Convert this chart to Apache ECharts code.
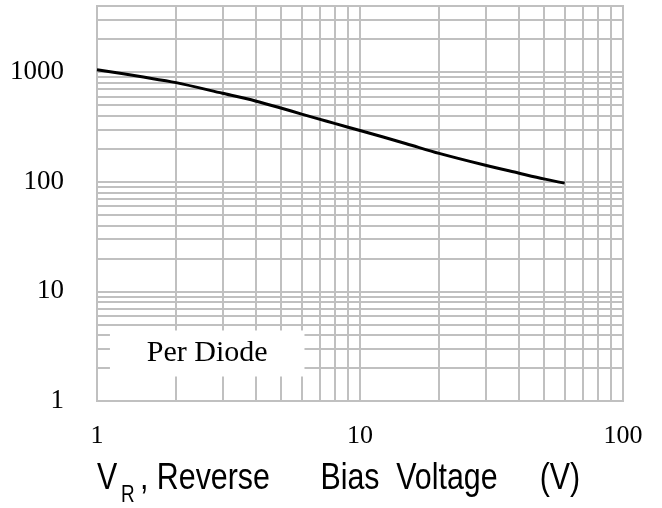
<!DOCTYPE html>
<html>
<head>
<meta charset="utf-8">
<script src="https://cdn.jsdelivr.net/npm/echarts@6/dist/echarts.min.js"></script>
<style>
  html, body { margin: 0; padding: 0; background: #fff; }
  #chart { width: 662px; height: 508px; }
</style>
</head>
<body>
<div id="chart"></div>
<script>
// Data (Capacitance vs reverse bias voltage, log-log)
const reverseVoltage = [1, 1.5, 2, 3, 4, 5, 6, 7, 8, 10, 15, 20, 30, 40, 50, 60];
const capacitance    = [1050, 900, 800, 640, 545, 470, 413, 372, 340, 293, 222, 181, 141, 120, 106, 97];

const xTickLabels = [1, 10, 100];
const yTickLabels = [1, 10, 100, 1000];
const xMinorLines = [2, 3, 4, 5, 6, 7, 8, 9, 20, 30, 40, 50, 60, 70, 80, 90];
const yMinorLines = [2, 3, 4, 5, 6, 7, 8, 9, 20, 30, 40, 50, 60, 70, 80, 90,
                     200, 300, 400, 500, 600, 700, 800, 900, 2000, 3000];
const noteText = 'Per Diode';
const noteBoxX = [1.12, 6.15];
const noteBoxY = [1.67, 4.4];
const xTitleMain = 'V';
const xTitleSub = 'R';
const xTitleRest = ', Reverse      Bias  Voltage     (V)';

const gridColor = '#c0c0c0';
const sansFont = '"Liberation Sans", Arial, sans-serif';

function pickLabel(list) {
  return function (v) {
    const r = Math.round(v);
    return list.indexOf(r) >= 0 && Math.abs(v - r) < 1e-6 * Math.max(1, r) ? String(r) : '';
  };
}

function titleText(text, x, y, size) {
  return {
    type: 'text', x: x, y: y, scaleX: 0.82, silent: true,
    style: {
      text: text, fontFamily: sansFont, fontSize: size, fontWeight: 'normal',
      fill: '#000', align: 'left', verticalAlign: 'middle'
    }
  };
}

const chart = echarts.init(document.getElementById('chart'), null, { renderer: 'canvas' });
chart.setOption({
  animation: false,
  backgroundColor: '#fff',
  graphic: [
    titleText(xTitleMain, 97, 479, 37),
    titleText(xTitleSub, 121, 496, 23),
    titleText(xTitleRest, 140, 479, 37)
  ],
  grid: {
    left: 97, right: 39, top: 6, bottom: 107,
    show: true, borderColor: gridColor, borderWidth: 2, backgroundColor: 'transparent'
  },
  xAxis: {
    type: 'log', logBase: 10, min: 1, max: 100,
    axisLine: { show: false }, axisTick: { show: false },
    splitLine: { show: true, lineStyle: { color: gridColor, width: 2 } },
    axisLabel: {
      margin: 22, fontFamily: '"Liberation Serif", serif', fontSize: 26, color: '#000',
      formatter: pickLabel(xTickLabels)
    }
  },
  yAxis: {
    type: 'log', logBase: 10, min: 1, max: 4000,
    axisLine: { show: false }, axisTick: { show: false },
    splitLine: { show: true, lineStyle: { color: gridColor, width: 2 } },
    axisLabel: {
      margin: 33, fontFamily: '"Liberation Serif", serif', fontSize: 27, color: '#000',
      showMaxLabel: false,
      formatter: pickLabel(yTickLabels)
    }
  },
  series: [
    {
      name: 'grid-minor',
      type: 'line',
      data: [],
      z: 1,
      silent: true,
      markLine: {
        z: 1,
        silent: true,
        symbol: ['none', 'none'],
        label: { show: false },
        lineStyle: { color: gridColor, width: 2, type: 'solid' },
        data: xMinorLines.map(v => ({ xAxis: v })).concat(yMinorLines.map(v => ({ yAxis: v })))
      }
    },
    {
      name: 'note',
      type: 'line',
      data: [],
      z: 3,
      silent: true,
      markArea: {
        z: 3,
        silent: true,
        itemStyle: { color: '#fff', opacity: 1 },
        label: {
          show: true, position: 'inside', color: '#000',
          fontFamily: '"Liberation Serif", serif', fontSize: 30
        },
        data: [[
          { name: noteText, xAxis: noteBoxX[0], yAxis: noteBoxY[1] },
          { xAxis: noteBoxX[1], yAxis: noteBoxY[0] }
        ]]
      }
    },
    {
      name: 'Capacitance',
      type: 'line',
      z: 5,
      smooth: 0.3,
      showSymbol: false,
      symbol: 'none',
      lineStyle: { color: '#000', width: 3 },
      data: reverseVoltage.map((v, i) => [v, capacitance[i]])
    }
  ]
});
</script>
</body>
</html>
